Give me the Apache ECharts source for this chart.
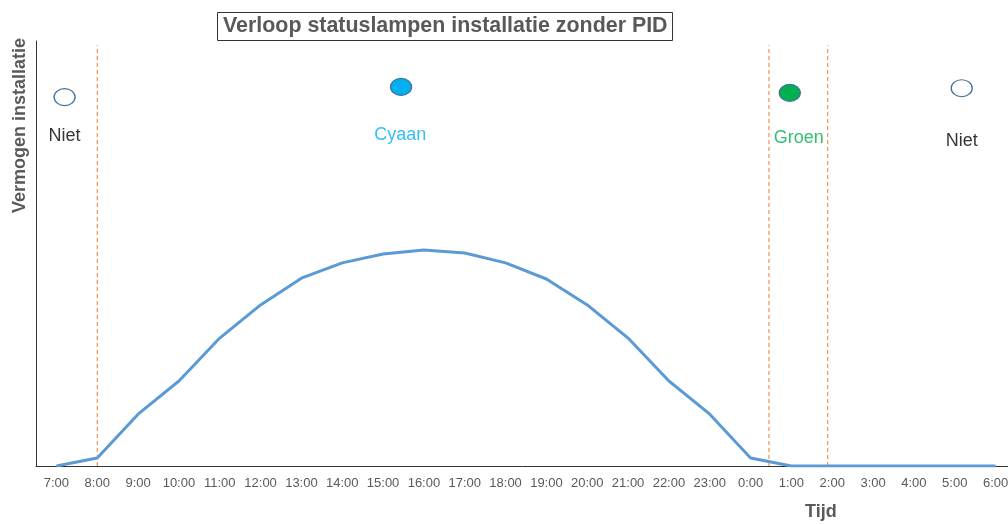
<!DOCTYPE html>
<html><head><meta charset="utf-8">
<script src="https://cdn.jsdelivr.net/npm/echarts@6/dist/echarts.min.js"></script>
<style>html,body{margin:0;padding:0;background:#fff}#c{width:1008px;height:524px}</style>
</head><body><div id="c"></div>
<script>
var categories = ['7:00','8:00','9:00','10:00','11:00','12:00','13:00','14:00','15:00','16:00','17:00','18:00','19:00','20:00','21:00','22:00','23:00','0:00','1:00','2:00','3:00','4:00','5:00','6:00'];
var power = [0,1.9,12.2,20,30.1,37.9,44.2,47.8,49.9,50.8,50.1,47.8,44,37.9,30.1,20,12.2,1.9,0,0,0,0,0,0];
// status lamps: [x position (category index), y level]
var lampNames = ['Niet','Cyaan','Groen','Niet'];
var lampPos = [[0.2,86.8],[8.44,89.2],[17.96,87.8],[22.17,88.9]];
var lampFill = ['#ffffff','#00B0F0','#00B050','#ffffff'];
var lampLabelPos = [[0.2,77.6],[8.42,77.9],[18.18,77.2],[22.17,76.5]];
var lampLabelColor = ['#000000','#00B0F0','#00B050','#000000'];
var boundaries = [1, 17.45, 18.89];
var boundaryTop = 99;

var series = [
  {type:'line',data:power,symbol:'none',lineStyle:{color:'#5B9BD5',width:3},z:3}
];
boundaries.forEach(function(b){
  series.push({type:'line',xAxisIndex:1,data:[[b,0],[b,boundaryTop]],symbol:'none',silent:true,
    lineStyle:{color:'#ED7D31',type:[4,3],width:1},z:2});
});
series.push({type:'scatter',xAxisIndex:1,data:lampPos.map(function(p,i){return {value:p,itemStyle:{color:lampFill[i]}};}),
  symbol:'circle',symbolSize:[21,17],itemStyle:{borderColor:'#41719C',borderWidth:1.2,opacity:1},z:4});
series.push({type:'scatter',xAxisIndex:1,data:lampLabelPos.map(function(p,i){return {value:p,label:{color:lampLabelColor[i],formatter:lampNames[i]}};}),
  symbolSize:0,label:{show:true,position:'inside',fontSize:18,fontFamily:'Liberation Sans'}});

var chart = echarts.init(document.getElementById('c'));
chart.setOption({
  animation:false,
  title:{text:'Verloop statuslampen installatie zonder PID',left:217,top:12,
    borderColor:'#333',borderWidth:1,padding:[4,5,4,6],
    textStyle:{fontFamily:'Liberation Sans',fontSize:21.4,fontWeight:'bold',color:'#595959'}},
  grid:{left:36,right:-8,top:41,bottom:58,outerBoundsMode:'none',containLabel:false},
  xAxis:[{type:'category',data:categories,boundaryGap:true,
    axisLine:{lineStyle:{color:'#333333',width:1}},axisTick:{show:false},
    axisLabel:{color:'#595959',fontSize:13,fontFamily:'Liberation Sans',margin:11,interval:0}},
    {type:'value',min:-0.5,max:23.5,show:false}],
  yAxis:{type:'value',min:0,max:100,axisLine:{show:true,onZero:false,lineStyle:{color:'#333333'}},
    axisLabel:{show:false},axisTick:{show:false},splitLine:{show:false}},
  graphic:[
    {type:'text',left:805,top:503,style:{text:'Tijd',fontFamily:'Liberation Sans',fontSize:18,fontWeight:'bold',fill:'#595959'}},
    {type:'text',x:11,y:213,rotation:Math.PI/2,style:{text:'Vermogen installatie',fontFamily:'Liberation Sans',fontSize:18,fontWeight:'bold',fill:'#595959'}}
  ],
  series:series
});
</script></body></html>
